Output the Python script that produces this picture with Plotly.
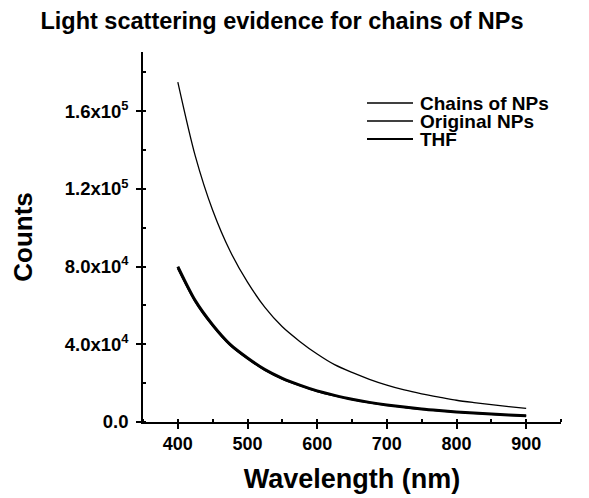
import plotly.graph_objects as go

wavelength = [400, 425, 450, 475, 500, 525, 550, 575, 600, 625, 650, 675, 700,
              725, 750, 775, 800, 825, 850, 875, 900]
chains_counts = [175000, 137000, 109000, 88000, 72000, 59000, 49000, 41500, 35000,
                 29500, 25500, 22000, 19000, 16500, 14500, 12800, 11200, 10000,
                 8900, 7900, 7000]
original_counts = [79000, 62000, 49500, 39600, 32600, 26700, 22200, 18800, 15800,
                   13500, 11600, 10000, 8700, 7600, 6600, 5850, 5150, 4550, 4050,
                   3550, 3150]
thf_counts = [80000, 62500, 50000, 40000, 33000, 27000, 22500, 19000, 16000,
              13700, 11700, 10100, 8800, 7700, 6700, 5900, 5200, 4600, 4100,
              3600, 3200]

series_names = ["Chains of NPs", "Original NPs", "THF"]
y_tick_vals = [0, 40000, 80000, 120000, 160000]
y_tick_text = ["<b>0.0</b>", "<b>4.0x10<sup>4</sup></b>", "<b>8.0x10<sup>4</sup></b>",
               "<b>1.2x10<sup>5</sup></b>", "<b>1.6x10<sup>5</sup></b>"]
x_tick_vals = [400, 500, 600, 700, 800, 900]
x_tick_text = ["<b>400</b>", "<b>500</b>", "<b>600</b>", "<b>700</b>", "<b>800</b>", "<b>900</b>"]

FONT = "Arial, Liberation Sans, sans-serif"
widths = [1.3, 1.7, 3.0]
series = [chains_counts, original_counts, thf_counts]

W, H = 589, 498
OFF = 8  # page body margin
# plot area in page pixel coordinates (as seen in the reference)
L, R, T, B = 143, 561, 52, 422

fig = go.Figure()
for name, ys, w in zip(series_names, series, widths):
    fig.add_trace(go.Scatter(x=wavelength, y=ys, mode="lines", name=name,
                             line=dict(color="black", width=w, shape="spline",
                                       smoothing=0.8),
                             showlegend=False))

# manual legend (compact spacing like the original)
leg_y = [103, 121, 139]
for name, w, yy in zip(series_names, widths, leg_y):
    yp = (B - yy) / (B - T)
    fig.add_shape(type="line", xref="paper", yref="paper",
                  x0=(367 - L) / (R - L), x1=(413 - L) / (R - L),
                  y0=yp, y1=yp, line=dict(color="black", width=min(w, 2.2)))
    fig.add_annotation(text="<b>" + name + "</b>", xref="paper", yref="paper",
                       x=(418 - L) / (R - L), y=yp,
                       xanchor="left", yanchor="middle", showarrow=False,
                       font=dict(family=FONT, size=19, color="black"))

fig.update_layout(
    width=W, height=H,
    margin=dict(l=L - OFF, r=W - (R - OFF), t=T - OFF, b=H - (B - OFF),
                autoexpand=False),
    paper_bgcolor="white", plot_bgcolor="white",
    title=dict(text="<b>Light scattering evidence for chains of NPs</b>",
               x=(282 - OFF) / W, xanchor="center", y=1 - (21 - OFF) / H,
               yanchor="middle",
               font=dict(family=FONT, size=23.5, color="black")),
    font=dict(family=FONT, color="black"),
)
fig.update_xaxes(range=[350, 950], tickvals=x_tick_vals, ticktext=x_tick_text,
                 ticks="outside", ticklen=5, tickwidth=1.5, tickcolor="black",
                 showline=True, linecolor="black", linewidth=1.5,
                 showgrid=False, zeroline=False, automargin=False,
                 tickfont=dict(family=FONT, size=18, color="black"),
                 minor=dict(dtick=50, ticks="inside", ticklen=3, tickcolor="black"),
                 title=dict(text="<b>Wavelength (nm)</b>",
                            font=dict(family=FONT, size=27, color="black"),
                            standoff=16))
fig.update_yaxes(range=[0, 190500], tickvals=y_tick_vals, ticktext=y_tick_text,
                 ticks="outside", ticklen=5, tickwidth=1.5, tickcolor="black",
                 showline=True, linecolor="black", linewidth=1.5,
                 showgrid=False, zeroline=False, automargin=False,
                 ticklabelstandoff=4,
                 tickfont=dict(family=FONT, size=18.5, color="black"),
                 minor=dict(dtick=20000, ticks="inside", ticklen=3, tickcolor="black"),
                 title=dict(text="<b>Counts</b>",
                            font=dict(family=FONT, size=26, color="black"),
                            standoff=25))

fig.write_html("out.html")
